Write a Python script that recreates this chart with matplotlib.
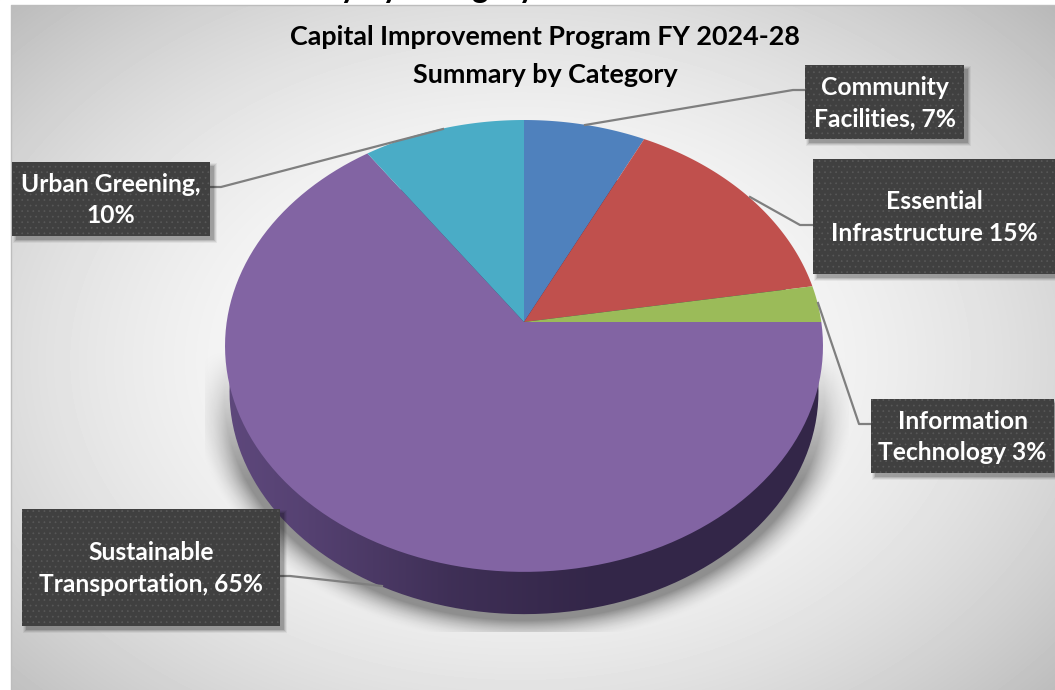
import numpy as np
import matplotlib
matplotlib.use("Agg")
import matplotlib.pyplot as plt
from matplotlib.patches import Rectangle, PathPatch
from matplotlib.path import Path

categories = ["Community Facilities", "Essential Infrastructure", "Information Technology",
              "Sustainable Transportation", "Urban Greening"]
shares = [7.3, 15.1, 2.6, 65.3, 9.7]
slice_colors = ["#4f81bd", "#c0504d", "#9bbb59", "#8264a3", "#4aacc6"]
box_labels = ["Community\nFacilities, 7%", "Essential\nInfrastructure 15%", "Information\nTechnology 3%",
              "Sustainable\nTransportation, 65%", "Urban Greening,\n10%"]
box_rects = [(805, 65, 159, 74), (813, 159, 242, 115), (871, 399, 183, 74),
             (22, 509, 258, 117), (12, 162, 198, 74)]
leaders = [[(805, 90), (793, 90), (585, 125)],
           [(813, 225), (800, 225), (750, 197)],
           [(871, 424), (859, 424), (818, 303)],
           [(280, 576), (290, 576), (382, 586)],
           [(210, 187), (221, 187), (443, 129)]]
title_text = "Capital Improvement Program FY 2024-28\nSummary by Category"
cut_title = "Summary by Category"

W, H = 1055, 690
cx, cy = 524, 322
k = 0.106
a, b = 297.3, 223.4

plt.rcParams['font.family'] = ['Lato', 'DejaVu Sans']
plt.rcParams['hatch.linewidth'] = 0.5
fig = plt.figure(figsize=(W / 100, H / 100), dpi=100)
ax = fig.add_axes([0, 0, 1, 1])
ax.set_xlim(0, W)
ax.set_ylim(H, 0)
ax.axis("off")


# the pie is tilted, so the unit circle goes through a perspective map
def project(theta, r=1.0, dy=0.0, scale=1.0):
    u = r * np.sin(theta)
    v = r * np.cos(theta)
    d = 1 + k * v
    return cx + scale * a * u / d, cy + dy - scale * b * v / d


# background gradient
yy, xx = np.mgrid[0:H, 0:W]
rr2 = ((xx - 520) / 620.0) ** 2 + ((yy - 360) / 440.0) ** 2
bg = 1 - 0.2 * rr2
ax.imshow(bg, cmap="gray", vmin=0, vmax=1, extent=(0, W, H, 0), aspect="auto", zorder=0)
ax.add_patch(Rectangle((0, 0), 10, H, color="white", zorder=1))
ax.add_patch(Rectangle((0, 0), W, 4, color="white", zorder=1))
ax.plot([10.5, 10.5, W], [H, 4.5, 4.5], color="#bdbdbd", lw=1, zorder=1)

# soft shadow under the pie, cut off square like in the original
sh_r = np.sqrt(((xx - 524) / 300.0) ** 2 + ((yy - 396) / 224.0) ** 2)
sh = np.clip((1.11 - sh_r) / 0.11, 0, 1) ** 1.8 * 0.40
sh *= np.clip((yy - 350) / 130.0, 0, 1)
sh[(xx < 205) | (xx > 848) | (yy > 631)] = 0
rgba = np.zeros((H, W, 4))
rgba[..., 3] = sh
ax.imshow(rgba, extent=(0, W, H, 0), aspect="auto", zorder=2)

# side wall
t = np.linspace(0, 2 * np.pi, 361)
wx, wy = project(t, dy=46, scale=0.985)
wall = PathPatch(Path(np.column_stack([wx, wy])), fc="none", ec="none", zorder=3)
ax.add_patch(wall)
grad = np.interp(np.arange(W), [225, 300, 450, 600, 823], [0.0, 0.18, 0.72, 1.0, 1.0])
c0 = np.array([0x5e, 0x48, 0x7c]) / 255
c1 = np.array([0x33, 0x26, 0x48]) / 255
wall_img = c0[None, None, :] + (c1 - c0)[None, None, :] * grad[None, :, None]
im = ax.imshow(wall_img, extent=(0, W, H, 0), aspect="auto", zorder=3)
im.set_clip_path(wall)

# slices
edges = np.cumsum([0] + shares) / sum(shares) * 2 * np.pi
for i, name in enumerate(categories):
    th = np.linspace(edges[i], edges[i + 1], 120)
    px, py = project(th)
    ax.fill(np.r_[cx, px], np.r_[cy, py], color=slice_colors[i], lw=0, zorder=4, label=name)

# leader lines
for pts in leaders:
    ax.plot([p[0] for p in pts], [p[1] for p in pts], color="#7f7f7f", lw=1.6, zorder=5,
            solid_joinstyle="round")

# dark label boxes with a dotted fill
for (x, y, w, h), txt in zip(box_rects, box_labels):
    for grow, alpha in zip([6, 4, 2, 0], [0.05, 0.08, 0.10, 0.14]):
        ax.add_patch(Rectangle((x + 4 - grow / 2, y + 4 - grow / 2), w + grow, h + grow,
                               fc="black", ec="none", alpha=alpha, zorder=6))
    ax.add_patch(Rectangle((x, y), w, h, fc="#404040", ec="#585858", lw=0, hatch="...", zorder=7))
    ax.text(x + w / 2, y + h / 2 + 1, txt, color="white", fontsize=17.7, fontweight="bold", ha="center",
            va="center", linespacing=1.47, zorder=8)

# title
ax.text(545, 56, title_text, color="black", fontsize=19.4, fontweight="bold", ha="center", va="center",
        linespacing=1.72, zorder=8)
ax.text(380, -2, cut_title, color="black", fontsize=22.7, fontweight="bold", ha="center", va="baseline",
        zorder=8, clip_on=False)

fig.savefig("out.png", dpi=100)
